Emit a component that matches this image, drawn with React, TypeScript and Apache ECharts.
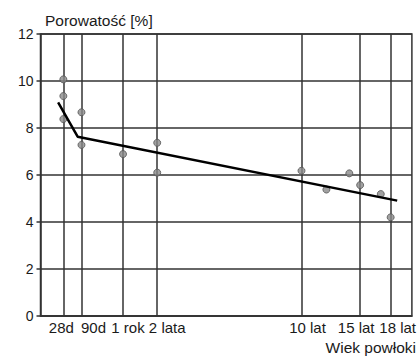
import React, { useEffect, useRef } from "react";
import * as echarts from "echarts";

// Axis: age of the coating (years), plotted on a square-root scale
const tickYears = [28 / 365, 90 / 365, 1, 2, 10, 15, 18];
const tickLabels = ["28d", "90d", "1 rok", "2 lata", "10 lat", "15 lat", "18 lat"];
const yTicks = [0, 2, 4, 6, 8, 10, 12];

// Measured porosity points
const pointYears = [28 / 365, 28 / 365, 28 / 365, 90 / 365, 90 / 365, 1, 2, 2, 10, 12, 14, 15, 17, 18];
const pointValues = [10.07, 9.36, 8.38, 8.67, 7.28, 6.89, 7.37, 6.1, 6.18, 5.38, 6.07, 5.57, 5.19, 4.2];

// Trend line
const trendYears = [0.0456, 0.2025, 18.68];
const trendValues = [9.09, 7.63, 4.91];

// label horizontal nudges (px) – styling only
const labelShift = [-2, 12, 5, 10, 6, -4, 7];

const sx = (y: number) => Math.sqrt(y);

export default function App() {
  const ref = useRef<HTMLDivElement>(null);
  useEffect(() => {
    if (!ref.current) return;
    const chart = echarts.init(ref.current, null, { renderer: "svg" });
    const font = "'Liberation Sans', Arial, sans-serif";
    const tickVals = tickYears.map(sx);
    const rich: Record<string, any> = {};
    labelShift.forEach((d, i) => {
      rich["l" + i] = {
        fontSize: 15,
        fontFamily: font,
        color: "#1a1a1a",
        padding: d >= 0 ? [0, 0, 0, 2 * d] : [0, -2 * d, 0, 0],
      };
    });
    chart.setOption({
      animation: false,
      backgroundColor: "#ffffff",
      title: [
        {
          text: "Porowatość [%]",
          left: 45,
          top: 12,
          padding: 0,
          textStyle: { fontSize: 15.5, fontWeight: "normal", color: "#1a1a1a", fontFamily: font },
        },
        {
          text: "Wiek powłoki",
          right: 3,
          top: 339,
          padding: 0,
          textStyle: { fontSize: 15.5, fontWeight: "normal", color: "#1a1a1a", fontFamily: font },
        },
      ],
      grid: {
        left: 40.5,
        right: 6,
        top: 34,
        bottom: 40,
        show: true,
        borderColor: "#333",
        borderWidth: 1.5,
        containLabel: false,
      },
      xAxis: {
        type: "value",
        min: 0,
        max: 4.5,
        axisLine: { show: true, lineStyle: { color: "#333", width: 1.5 } },
        axisTick: { show: false },
        splitLine: { show: false },
        axisLabel: {
          customValues: tickVals,
          margin: 4,
          fontSize: 15,
          fontFamily: font,
          color: "#1a1a1a",
          rich,
          formatter: (v: number) => {
            let best = 0;
            tickVals.forEach((t, i) => {
              if (Math.abs(t - v) < Math.abs(tickVals[best] - v)) best = i;
            });
            return `{l${best}|${tickLabels[best]}}`;
          },
        },
      },
      yAxis: {
        type: "value",
        min: yTicks[0],
        max: yTicks[yTicks.length - 1],
        interval: 2,
        axisLine: { show: true, lineStyle: { color: "#333", width: 1.5 } },
        axisTick: { show: true, inside: false, length: 4, lineStyle: { color: "#333", width: 1.5 } },
        splitLine: { show: true, lineStyle: { color: "#333", width: 1.5 } },
        axisLabel: { margin: 7, fontSize: 14, fontFamily: font, color: "#1a1a1a" },
      },
      series: [
        {
          type: "scatter",
          data: pointYears.map((y, i) => [sx(y), pointValues[i]]),
          symbol: "circle",
          symbolSize: 7,
          itemStyle: { color: "#8a8a8a", borderColor: "#555", borderWidth: 1 },
          z: 3,
          markLine: {
            silent: true,
            symbol: ["none", "none"],
            label: { show: false },
            lineStyle: { color: "#333", width: 1.5, type: "solid" },
            data: tickVals.map((v) => ({ xAxis: v })),
            z: 1,
          },
        },
        {
          type: "line",
          data: trendYears.map((y, i) => [sx(y), trendValues[i]]),
          showSymbol: false,
          lineStyle: { color: "#000", width: 2.5 },
          z: 4,
        },
      ],
    });
    return () => chart.dispose();
  }, []);
  return <div ref={ref} style={{ width: 419, height: 356, position: "absolute", left: 0, top: 0 }} />;
}
